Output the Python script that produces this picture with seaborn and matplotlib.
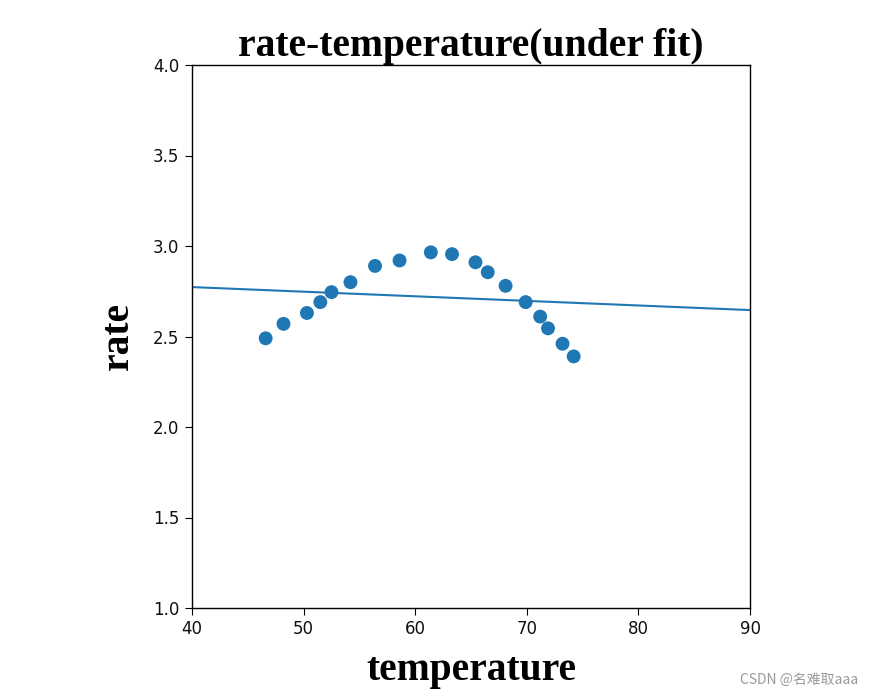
import matplotlib
matplotlib.use("Agg")
import matplotlib.pyplot as plt
import seaborn as sns
import pandas as pd

temperature = [46.6, 48.2, 50.3, 51.5, 52.5, 54.2, 56.4, 58.6, 61.4, 63.3,
               65.4, 66.5, 68.1, 69.9, 71.2, 71.9, 73.2, 74.2]
rate = [2.49, 2.57, 2.63, 2.69, 2.745, 2.80, 2.89, 2.92, 2.965, 2.955,
        2.91, 2.855, 2.78, 2.69, 2.61, 2.545, 2.46, 2.39]
fit_x = [40, 90]
fit_y = [2.773, 2.646]
x_ticks = [40, 50, 60, 70, 80, 90]
y_ticks = [1.0, 1.5, 2.0, 2.5, 3.0, 3.5, 4.0]

sns.set_style("ticks")
plt.rcParams['font.family'] = ['DejaVu Sans']
plt.rcParams['text.color'] = 'black'

df = pd.DataFrame({"temperature": temperature, "rate": rate})
fit = pd.DataFrame({"x": fit_x, "y": fit_y})

fig = plt.figure(figsize=(8.72, 6.98), dpi=100)
ax = fig.add_axes([192/872, 1-608/698, 558/872, 543/698])

sns.scatterplot(data=df, x="temperature", y="rate", ax=ax, s=100,
                color="#1f77b4", edgecolor="none", zorder=3)
sns.lineplot(data=fit, x="x", y="y", ax=ax, color="#1f77b4", linewidth=1.5,
             zorder=2)

ax.set_xlim(40, 90)
ax.set_ylim(1.0, 4.0)
ax.set_xticks(x_ticks)
ax.set_yticks(y_ticks)
ax.set_yticklabels([f"{v:.1f}" for v in y_ticks])
ax.tick_params(labelsize=12, length=5, color="black", labelcolor="#111111",
               pad=4)
for sp in ax.spines.values():
    sp.set_visible(True)
    sp.set_color("black")
    sp.set_linewidth(1.0)

serif = ['Liberation Serif', 'DejaVu Serif']
ax.set_title("rate-temperature(under fit)", family=serif, fontweight="bold",
             fontsize=28.5, pad=4, color="black")
ax.set_xlabel("temperature", family=serif, fontweight="bold", fontsize=28.5,
              labelpad=10, color="black")
ax.set_ylabel("rate", family=serif, fontweight="bold", fontsize=28.5,
              labelpad=12, color="black")

fig.text(858/872, 1-680/698, "CSDN @名难取aaa", ha="right", va="center",
         fontsize=10, color="#9a9a9a",
         family=['Noto Sans CJK SC', 'DejaVu Sans'])

fig.savefig("out.png", dpi=100)
